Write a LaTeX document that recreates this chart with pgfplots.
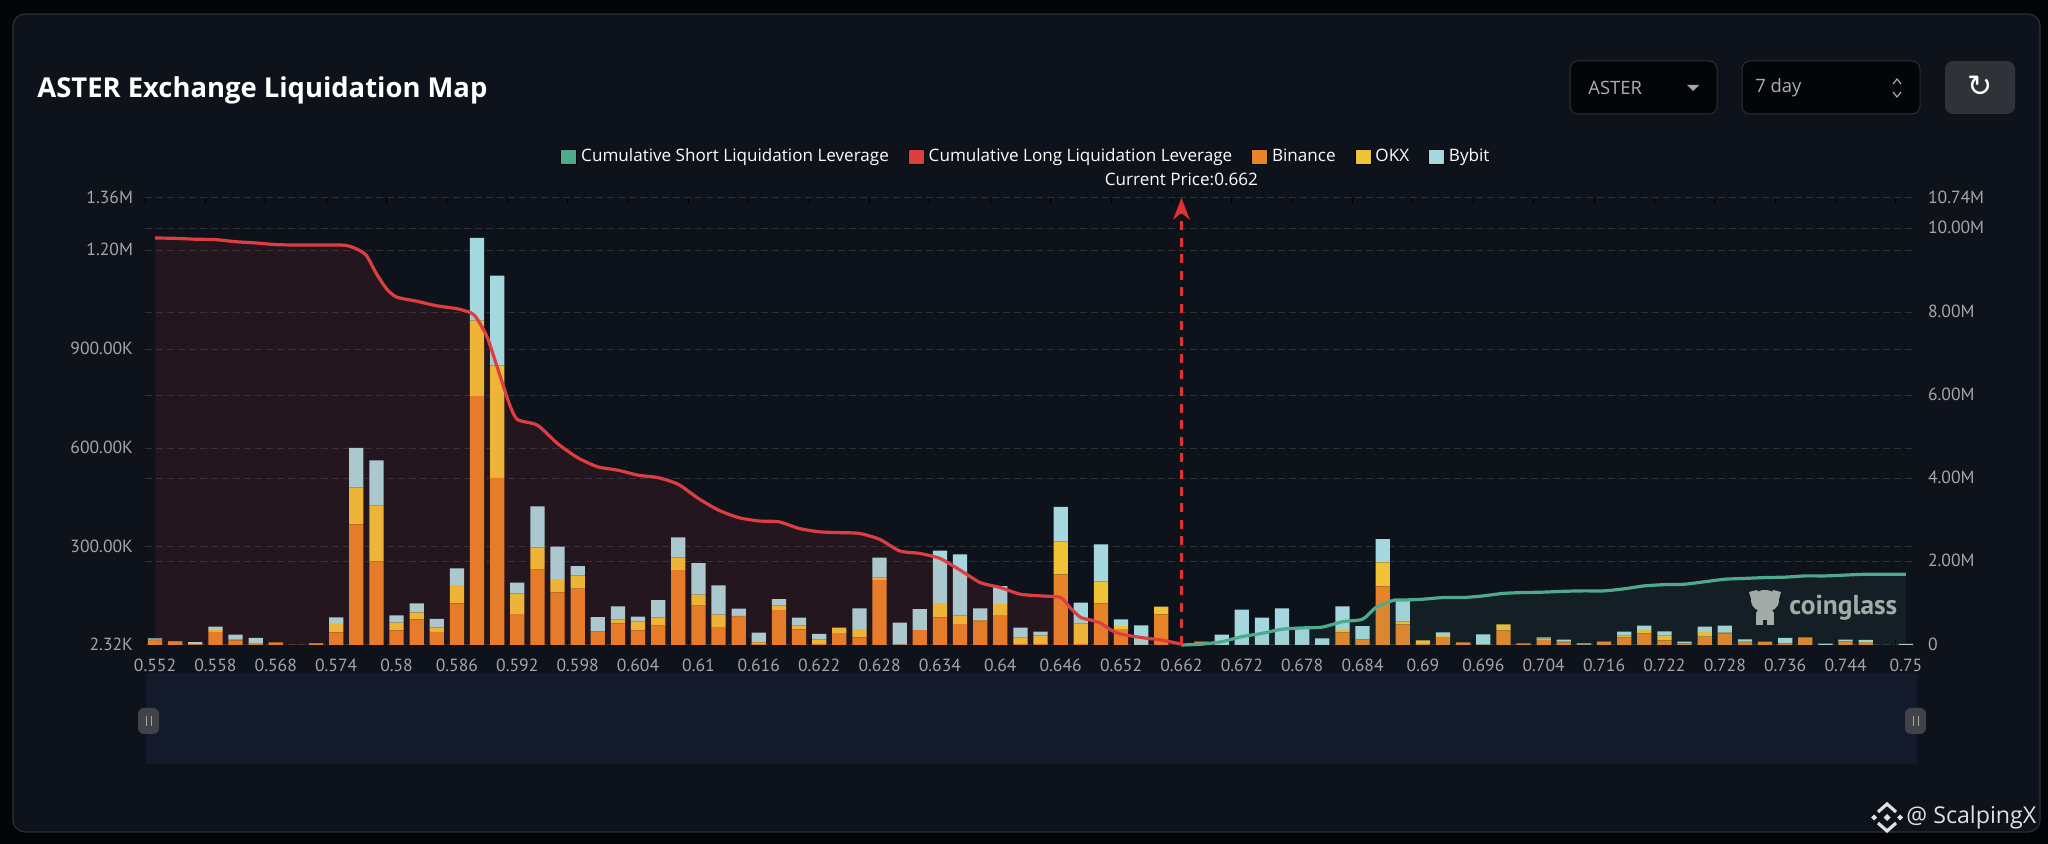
\documentclass[border=0pt]{standalone}
\usepackage{fontspec}
\usepackage{pgfplots}
\usepackage{pgfplotstable}
\pgfplotsset{compat=1.18}
\usetikzlibrary{arrows.meta}
\setmainfont{Open Sans}
\newfontfamily\din{PT Sans}
\newfontfamily\djv{DejaVu Sans}
\definecolor{outer}{RGB}{3,4,8}
\definecolor{panel}{RGB}{14,18,26}
\definecolor{pborder}{RGB}{44,47,52}
\definecolor{gridc}{RGB}{44,49,56}
\definecolor{tickc}{RGB}{163,166,170}
\definecolor{binance}{RGB}{232,132,40}
\definecolor{okx}{RGB}{240,194,54}
\definecolor{bybit}{RGB}{165,216,222}
\definecolor{redl}{RGB}{220,62,66}
\definecolor{greenl}{RGB}{79,169,140}
\definecolor{slider}{RGB}{19,26,43}
\pgfplotstableread{
i o y b
0 15.5 4 3
1 11.4 2 0
2 4.3 1 6.1
3 41.8 6.1 10.1
4 16.5 2 15.2
5 5.4 1 17.2
6 10.4 0 0
7 2.6 0 0
8 5.4 2 0
9 40.8 25.3 20.2
10 368.5 112.3 120.4
11 256.2 170 136.6
12 46.8 23.3 22.3
13 80.2 21.2 27.3
14 41.8 14.2 25.3
15 128.8 55.6 50.6
16 758 229.6 250.9
17 510.1 340.9 273.1
18 96.4 62.7 32.4
19 231 67.8 124.4
20 162.2 40.5 98.1
21 173.3 40.5 28.3
22 42.8 1 43.5
23 68.1 11.1 40.5
24 46.8 26.3 15.2
25 61 25.3 52.6
26 229.9 38.4 60.7
27 121.7 33.4 96.1
28 57 37.4 89
29 88.3 5.1 19.2
30 5.4 5.1 29.3
31 108.5 13.2 20.2
32 49.9 11.1 24.3
33 5.4 14.2 16.2
34 38.7 16.2 0
35 25.6 25.3 62.7
36 199.6 7.1 60.7
37 3.3 0 66.8
38 47.8 0 63.7
39 86.3 43.5 158.8
40 66 25.3 186.1
41 73.1 4 36.4
42 93.4 33.4 54.6
43 5.4 19.2 30.3
44 5.4 26.3 11.1
45 216.8 100.1 105.2
46 5.4 61.7 63.7
47 128.8 66.8 112.3
48 50.9 9.1 20.2
49 2.4 0 59.7
50 95.4 23.3 0
51 0 0 0
52 11.4 1 0
53 2.4 0 31.4
54 2.4 0 107.2
55 2.4 0 83
56 2.4 0 111.3
57 2.4 0 50.6
58 2.4 0 20.2
59 40.8 7.1 71.8
60 18.5 1 40.5
61 180.4 72.8 70.8
62 65 9.1 62.7
63 5.4 11.1 0
64 26.6 3 11.1
65 10.4 0 0
66 3.3 0 31.4
67 46.8 18.2 0
68 7.4 0 0
69 17.5 4 4
70 10.4 2 6.1
71 3.3 0 4
72 11.4 0 1
73 25.6 5.1 12.1
74 37.7 10.1 13.2
75 16.5 14.2 13.2
76 6.4 1 5.1
77 27.6 14.2 16.2
78 37.7 2 21.2
79 9.4 3 7.1
80 12.4 0 0
81 7.4 1 15.2
82 25.6 0 0
83 2.4 0 4
84 13.4 1 4
85 8.4 2 7.1
86 0 0 0
87 2.4 0 3
}\bars
\pgfplotstableread{
x v
0 9.78
1 9.77
2 9.75
3 9.74
4 9.69
5 9.66
6 9.62
7 9.61
8 9.61
9 9.61
9.5 9.60
10 9.52
10.5 9.36
11 8.92
11.5 8.56
12 8.36
13 8.26
14 8.15
15 8.08
15.7 7.98
16 7.84
16.5 7.40
17 6.68
17.6 5.80
18 5.42
19 5.28
20 4.84
21 4.50
22 4.28
23 4.20
24 4.08
25 4.02
26 3.86
27 3.52
28 3.24
29 3.06
30 2.98
31 2.96
32 2.80
33 2.72
34 2.70
35 2.68
36 2.54
37 2.26
38 2.20
39 2.08
40 1.80
41 1.50
42 1.38
43 1.22
44 1.18
45 1.14
45.5 0.88
46 0.66
46.5 0.60
47 0.52
47.5 0.36
48 0.26
49 0.18
50 0.12
51 0.02
}\longs
\pgfplotstableread{
x v
51 0.0
52 0.02
53 0.08
54 0.20
55 0.28
56 0.38
57 0.41
58 0.43
59 0.56
60 0.62
60.6 0.88
61 0.98
61.6 1.08
62 1.08
63 1.10
64 1.14
65 1.14
66 1.18
67 1.24
68 1.26
69 1.27
70 1.29
71 1.30
72 1.30
73 1.35
74 1.42
75 1.45
76 1.46
77 1.52
78 1.58
79 1.60
80 1.62
81 1.63
82 1.66
83 1.66
84 1.68
85 1.70
86 1.70
87 1.70
}\shorts
\pgfplotsset{
  base/.style={
    at={(72.5pt,99.5pt)}, anchor=south west,
    width=885.5pt, height=223.5pt, scale only axis,
    xmin=-0.5, xmax=87.5,
    axis line style={draw=none},
    major tick length=0pt,
    tick label style={font=\din\fontsize{8.8}{10}\selectfont, text=tickc},
    y grid style={gridc, dashed, dash pattern=on 3.5pt off 2pt, line width=0.5pt},
  },
}
\begin{document}
\begin{tikzpicture}
\begin{scope}[x=0.5pt,y=-0.5pt,yshift=422pt]
  \fill[outer] (0,0) rectangle (2048,844);
  \fill[panel, draw=pborder, line width=0.6pt, rounded corners=6pt] (13,14) rectangle (2040,832);
  % title
  \node[anchor=west, text=white, inner sep=0pt, font=\bfseries\fontsize{13.7}{15}\selectfont] at (37,90) {ASTER Exchange Liquidation Map};
  % controls
  \fill[black!70!panel, draw=pborder, line width=0.5pt, rounded corners=4pt] (1570,61) rectangle (1717,114);
  \fill[black!70!panel, draw=pborder, line width=0.5pt, rounded corners=4pt] (1742,61) rectangle (1920,114);
  \fill[black!30!pborder!80!white!10!pborder, rounded corners=4pt] (1945,61) rectangle (2015,114);
  \node[anchor=west, text=tickc!90!white, inner sep=0pt, font=\fontsize{9.2}{11}\selectfont] at (1588,88) {ASTER};
  \node[anchor=west, text=tickc!90!white, inner sep=0pt, font=\fontsize{9.2}{11}\selectfont] at (1755,88) {7 day};
  \fill[tickc] (1687,85) -- (1699,85) -- (1693,91) -- cycle;
  \draw[tickc, line width=0.6pt] (1893,84) -- (1897,79) -- (1901,84);
  \draw[tickc, line width=0.6pt] (1893,92) -- (1897,97) -- (1901,92);
  \node[text=white, inner sep=0pt, font=\djv\fontsize{15}{16}\selectfont] at (1980,86) {↻};
  % slider
  \fill[slider] (146,673) rectangle (1917,764);
  \foreach \hx in {148,1915}{
    \fill[gray!45!panel, rounded corners=3pt] (\hx-10,708) rectangle (\hx+11,734);
    \draw[tickc, line width=0.4pt] (\hx-2,716) -- (\hx-2,726) (\hx+3,716) -- (\hx+3,726);
  }
  % watermark
  \node[anchor=west, text=white!88!black, inner sep=0pt, font=\fontsize{11.6}{13}\selectfont] at (1906,817) {@ ScalpingX};
  \draw[white!88!black, line width=1.6pt] (1878,812) -- (1887,804) -- (1896,812);
  \draw[white!88!black, line width=1.6pt] (1878,823) -- (1887,831) -- (1896,823);
  \foreach \dx/\dy/\ds in {-13/0/3,13/0/3,0/0/3.5}{
    \fill[white!88!black] (1887+\dx,817.5+\dy-\ds) -- (1887+\dx+\ds,817.5+\dy) -- (1887+\dx,817.5+\dy+\ds) -- (1887+\dx-\ds,817.5+\dy) -- cycle;
  }
\end{scope}

% right-hand scale with its grid
\begin{axis}[base,
  ymin=0, ymax=10.74,
  xtick=\empty,
  ytick={0,2,4,6,8,10,10.74},
  yticklabels={0,2.00M,4.00M,6.00M,8.00M,10.00M,10.74M},
  yticklabel pos=right,
  y tick label style={anchor=west, xshift=2.5pt, yshift=0.5pt},
  ymajorgrids,
]
\end{axis}

% bars, left-hand scale
\begin{axis}[base,
  ybar stacked, bar width=7.1pt,
  ymin=2.32, ymax=1360,
  ytick={2.32,300,600,900,1200,1360},
  yticklabels={2.32K,300.00K,600.00K,900.00K,1.20M,1.36M},
  y tick label style={anchor=east, xshift=-2.5pt, yshift=0.5pt},
  ymajorgrids,
  xtick={0,3,...,87},
  xticklabels={0.552,0.558,0.568,0.574,0.58,0.586,0.592,0.598,0.604,0.61,0.616,0.622,0.628,0.634,0.64,0.646,0.652,0.662,0.672,0.678,0.684,0.69,0.696,0.704,0.716,0.722,0.728,0.736,0.744,0.75},
  x tick label style={anchor=north, yshift=-3.6pt},
  extra x ticks={-0.5,2.5,...,87.5},
  extra x tick labels={},
  extra x tick style={major tick length=3pt, tick style={draw=gridc!130!white, line width=0.5pt}},
]
\addplot[fill=binance, draw=none] table[x=i,y=o] {\bars};
\addplot[fill=okx, draw=none] table[x=i,y=y] {\bars};
\addplot[fill=bybit, draw=none] table[x=i,y=b] {\bars};
\end{axis}

% coinglass mark under the lines
\begin{scope}[x=0.5pt,y=-0.5pt,yshift=422pt]
  \node[anchor=west, text=gray!65!white, inner sep=0pt, font=\din\bfseries\fontsize{13.7}{15}\selectfont] at (1789,608) {coinglass};
  \fill[gray!65!white] (1765,601) ellipse [x radius=14, y radius=11];
  \fill[gray!65!white] (1749,592) -- (1757,590) -- (1760,596) -- (1752,602) -- cycle;
  \fill[gray!65!white] (1781,592) -- (1773,590) -- (1770,596) -- (1778,602) -- cycle;
  \fill[gray!65!white] (1765,614) ellipse [x radius=9, y radius=6];
  \fill[gray!65!white] (1756,615) rectangle (1763,625);
  \fill[gray!65!white] (1767,615) rectangle (1774,625);
\end{scope}

% cumulative areas and lines, right-hand scale
\begin{axis}[base,
  hide axis, clip=false,
  ymin=0, ymax=10.74,
  legend columns=-1,
  legend image code/.code={\fill[#1] (0pt,-3.75pt) rectangle (8pt,3.75pt);},
  legend style={at={(0.498,1.0925)}, anchor=center, draw=none, fill=none, text=white,
    font=\fontsize{8.55}{10}\selectfont, inner sep=0pt,
    /tikz/every even column/.append style={column sep=7.5pt},
    /tikz/every odd column/.append style={column sep=0pt}},
]
\addplot[fill=redl, fill opacity=0.10, draw=none, smooth, tension=0.4, forget plot] table[x=x,y=v] {\longs} \closedcycle;
\addplot[fill=greenl, fill opacity=0.09, draw=none, smooth, tension=0.4, forget plot] table[x=x,y=v] {\shorts} \closedcycle;
\addplot[redl, line width=1.6pt, smooth, tension=0.4, forget plot] table[x=x,y=v] {\longs};
\addplot[greenl, line width=1.6pt, smooth, tension=0.4, forget plot] table[x=x,y=v] {\shorts};
\addplot[color={rgb,255:red,224;green,50;blue,48}, line width=1.4pt, dash pattern=on 4.5pt off 3.8pt,
  -{Stealth[length=11pt,width=8.5pt,line width=0pt]}, forget plot] coordinates {(51,0) (51,10.74)};
\node[text=white, inner sep=0pt, font=\fontsize{8.55}{10}\selectfont] at (axis cs:51,11.18) {Current Price:0.662};
\addlegendimage{fill=greenl}\addlegendentry{Cumulative Short Liquidation Leverage}
\addlegendimage{fill=redl}\addlegendentry{Cumulative Long Liquidation Leverage}
\addlegendimage{fill=binance}\addlegendentry{Binance}
\addlegendimage{fill=okx}\addlegendentry{OKX}
\addlegendimage{fill=bybit}\addlegendentry{Bybit}
\end{axis}
\end{tikzpicture}
\end{document}
